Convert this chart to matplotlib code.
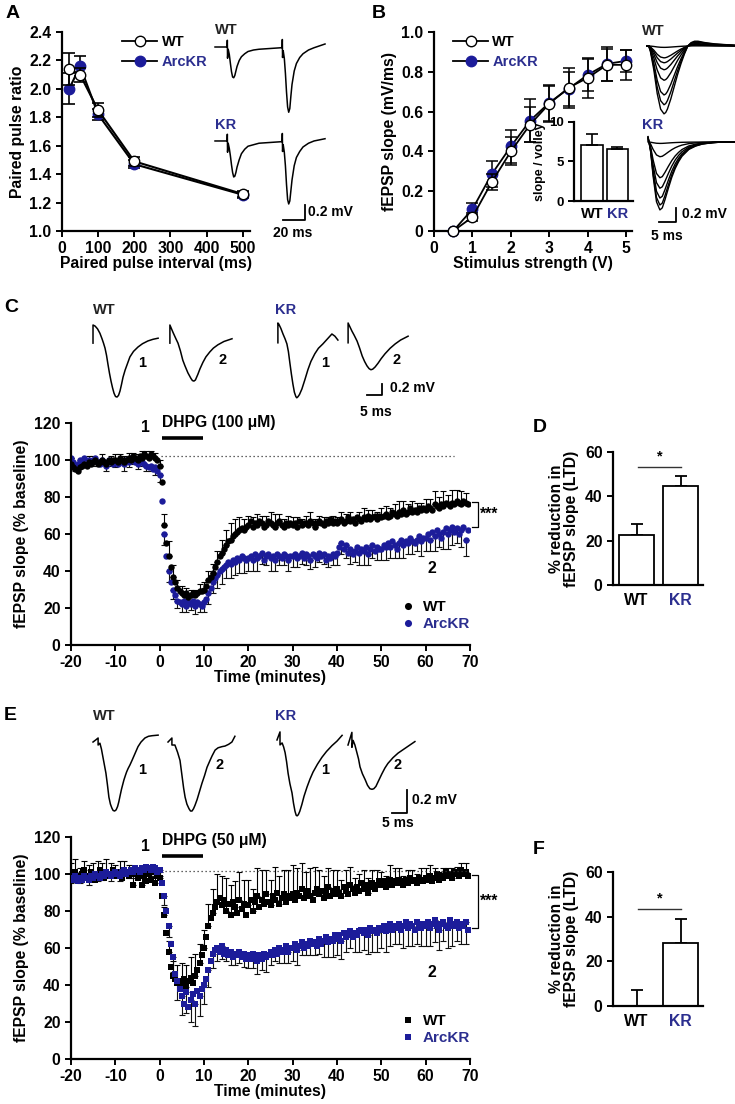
import matplotlib
matplotlib.use('Agg')
import matplotlib.pyplot as plt
from matplotlib.lines import Line2D
import numpy as np

plt.rcParams['font.family'] = ['Liberation Sans', 'DejaVu Sans']
plt.rcParams['font.weight'] = 'bold'
plt.rcParams['axes.labelweight'] = 'bold'
plt.rcParams['axes.unicode_minus'] = False

BLUE = '#1c1c9a'
TBLUE = '#2b2e8f'

# ---------------- data ----------------
# A: paired pulse ratio
ppi = [20, 50, 100, 200, 500]
ppr_wt = [2.14, 2.10, 1.85, 1.49, 1.26]
ppr_wt_err = [0.11, 0.05, 0.05, 0.03, 0.02]
ppr_kr = [2.00, 2.16, 1.82, 1.47, 1.255]
ppr_kr_err = [0.11, 0.07, 0.04, 0.03, 0.02]

# B: input/output
stim = [0.5, 1, 1.5, 2, 2.5, 3, 3.5, 4, 4.5, 5]
io_wt = [0, 0.07, 0.245, 0.40, 0.535, 0.64, 0.72, 0.77, 0.835, 0.835]
io_wt_err = [0, 0.02, 0.04, 0.07, 0.09, 0.09, 0.10, 0.10, 0.08, 0.075]
io_kr = [0, 0.11, 0.285, 0.425, 0.555, 0.645, 0.715, 0.785, 0.84, 0.855]
io_kr_err = [0, 0.03, 0.065, 0.085, 0.11, 0.09, 0.085, 0.08, 0.085, 0.055]
sv_groups = ['WT', 'KR']
sv_vals = [7.1, 6.6]
sv_err = [1.4, 0.25]

# C: DHPG 100 uM time course (0.5 min bins from -20 min)
c_wt = [98, 96, 95, 94, 96, 97, 98, 97, 99, 98, 99, 100, 98, 99, 100, 99, 98, 100, 99, 100,
        100, 99, 101, 100, 99, 100, 101, 100, 102, 101, 100, 102, 101, 103, 102, 101, 103, 102, 101, 100,
        97, 88, 65, 55, 48, 42, 37, 34, 31, 29, 28, 27, 28, 26, 27, 28, 27, 28, 29, 29,
        30, 32, 35, 37, 39, 42, 45, 48, 50, 52, 54, 56, 57, 59, 60, 61, 62, 63, 62, 64,
        65, 67, 64, 66, 65, 67, 66, 64, 65, 67, 66, 65, 64, 66, 67, 65, 64, 66, 65, 66,
        65, 66, 64, 67, 65, 66, 66, 65, 67, 66, 64, 66, 67, 66, 65, 67, 66, 68, 66, 67,
        66, 67, 68, 66, 67, 69, 67, 68, 66, 69, 68, 67, 69, 68, 70, 68, 69, 70, 68, 70,
        69, 70, 71, 69, 70, 72, 71, 70, 72, 71, 73, 71, 72, 74, 72, 73, 72, 74, 73, 74,
        73, 75, 74, 73, 76, 75, 74, 76, 75, 77, 76, 75, 77, 76, 78, 77, 76, 78, 77, 76]
c_kr = [101, 99, 97, 98, 100, 99, 101, 98, 100, 99, 100, 101, 99, 98, 100, 99, 97, 100, 99, 98,
        99, 98, 100, 99, 98, 100, 99, 101, 100, 99, 98, 100, 99, 98, 97, 96, 97, 95, 96, 94,
        92, 78, 60, 48, 40, 34, 30, 27, 24, 23, 22, 24, 21, 23, 22, 24, 21, 23, 22, 21,
        23, 25, 28, 31, 34, 36, 38, 40, 41, 42, 43, 45, 44, 46, 45, 47, 46, 48, 47, 46,
        47, 48, 46, 49, 47, 48, 50, 46, 48, 49, 47, 48, 46, 49, 48, 47, 49, 48, 46, 48,
        48, 49, 47, 48, 50, 47, 49, 48, 46, 49, 48, 47, 50, 48, 49, 46, 48, 47, 49, 48,
        50, 53, 55, 52, 54, 50, 52, 49, 51, 53, 50, 52, 51, 53, 49, 52, 54, 51, 53, 52,
        52, 54, 53, 55, 53, 56, 54, 52, 55, 57, 54, 56, 55, 58, 56, 55, 57, 59, 56, 58,
        58, 60, 57, 61, 59, 62, 60, 58, 61, 63, 60, 62, 64, 61, 63, 60, 62, 64, 57, 62]
# error bars, 1 min bins from -20 min
c_wt_err = [3, 2, 3, 2, 3, 3, 2, 3, 2, 3, 3, 2, 3, 3, 2, 3, 4, 3, 2, 3,
            3, 6, 8, 6, 4, 4, 3, 3, 3, 4, 4, 5, 5, 6, 7, 8, 9, 8, 7, 6,
            5, 5, 6, 4, 5, 6, 7, 4, 4, 5, 4, 5, 3, 4, 5, 4, 3, 4, 3, 4,
            3, 4, 4, 5, 3, 4, 5, 3, 4, 4, 5, 4, 4, 5, 6, 5, 4, 6, 5, 4,
            6, 5, 7, 6, 8, 5, 7, 6, 7, 5]
c_kr_err = [2, 3, 2, 3, 2, 3, 2, 2, 3, 2, 3, 2, 4, 3, 2, 3, 2, 3, 3, 4,
            4, 6, 6, 5, 4, 4, 3, 3, 4, 4, 5, 6, 6, 7, 8, 7, 8, 7, 7, 8,
            7, 6, 7, 6, 5, 7, 6, 5, 6, 6, 6, 5, 6, 6, 5, 6, 5, 5, 6, 6,
            7, 6, 7, 8, 6, 7, 8, 6, 7, 7, 6, 7, 6, 7, 8, 7, 6, 7, 6, 8,
            7, 6, 8, 7, 9, 8, 10, 8, 9, 9]
ltd_c = [22.5, 44.5]
ltd_c_err = [5.0, 4.7]

# E: DHPG 50 uM time course
e_wt = [100, 98, 101, 99, 97, 100, 102, 99, 98, 101, 100, 97, 99, 102, 100, 98, 101, 99, 100, 102,
        99, 101, 100, 98, 102, 100, 99, 101, 94, 100, 98, 101, 94, 99, 96, 100, 97, 101, 95, 99,
        98, 88, 78, 68, 58, 50, 45, 43, 41, 42, 40, 43, 39, 42, 44, 41, 45, 48, 52, 56,
        60, 66, 72, 76, 79, 82, 85, 87, 83, 86, 80, 84, 78, 85, 82, 79, 86, 81, 84, 78,
        83, 86, 80, 85, 88, 82, 86, 84, 89, 85, 83, 88, 86, 90, 84, 87, 89, 85, 88, 87,
        89, 86, 90, 88, 92, 87, 89, 91, 88, 86, 90, 92, 89, 91, 87, 90, 93, 88, 91, 89,
        92, 90, 88, 93, 91, 89, 94, 92, 90, 93, 91, 95, 92, 94, 90, 93, 95, 92, 94, 96,
        94, 96, 93, 95, 97, 94, 96, 95, 97, 96, 94, 97, 95, 98, 96, 97, 95, 98, 97, 96,
        98, 97, 99, 96, 98, 100, 97, 99, 98, 101, 99, 100, 98, 101, 100, 99, 102, 100, 101, 99]
e_kr = [98, 97, 99, 96, 98, 97, 99, 98, 97, 99, 98, 100, 99, 98, 100, 99, 101, 100, 99, 100,
        101, 100, 99, 101, 102, 100, 101, 102, 101, 103, 102, 101, 103, 102, 104, 103, 102, 104, 103, 101,
        102, 95, 88, 80, 72, 62, 55, 46, 42, 38, 34, 30, 36, 28, 32, 35, 30, 37, 34, 38,
        40, 43, 48, 53, 57, 59, 60, 58, 61, 57, 59, 56, 58, 55, 57, 56, 58, 55, 57, 54,
        56, 54, 57, 55, 53, 56, 54, 57, 55, 56, 58, 56, 59, 57, 60, 58, 59, 61, 58, 60,
        60, 62, 59, 61, 63, 60, 62, 61, 64, 62, 63, 61, 65, 62, 64, 66, 63, 65, 64, 67,
        65, 67, 64, 68, 66, 67, 69, 66, 68, 67, 69, 70, 68, 70, 67, 71, 69, 70, 68, 71,
        70, 72, 69, 71, 73, 70, 72, 71, 73, 70, 72, 74, 71, 73, 72, 70, 74, 72, 71, 73,
        72, 74, 71, 73, 75, 72, 70, 73, 74, 72, 71, 75, 73, 72, 74, 71, 73, 72, 74, 70]
e_wt_err = [6, 7, 6, 5, 7, 6, 8, 6, 7, 6, 6, 7, 5, 6, 7, 5, 6, 5, 4, 4,
            3, 4, 6, 8, 10, 12, 12, 11, 12, 10, 10, 12, 13, 15, 16, 18, 16, 14, 15, 13,
            14, 12, 15, 16, 13, 14, 18, 15, 13, 14, 16, 13, 14, 12, 15, 14, 13, 12, 10, 11,
            10, 9, 11, 10, 8, 9, 10, 8, 7, 8, 7, 6, 8, 7, 6, 5, 7, 6, 5, 6,
            5, 6, 5, 4, 5, 4, 5, 4, 4, 5]
e_kr_err = [3, 2, 3, 2, 3, 2, 3, 3, 2, 3, 2, 3, 2, 3, 3, 2, 3, 2, 3, 3,
            3, 5, 6, 8, 10, 10, 11, 12, 12, 11, 10, 9, 8, 7, 7, 6, 7, 6, 6, 7,
            7, 8, 7, 6, 8, 7, 6, 8, 7, 6, 7, 8, 7, 6, 8, 7, 8, 9, 8, 9,
            9, 10, 8, 9, 10, 11, 9, 10, 11, 10, 10, 11, 12, 10, 11, 12, 10, 11, 12, 10,
            11, 10, 12, 11, 10, 11, 12, 10, 11, 12]
ltd_e = [0.0, 28.0]
ltd_e_err = [7.0, 11.0]

# example traces (ms, mV)
a_t = [0, 11, 11.2, 11.4, 12, 13, 14, 15, 16, 17, 18, 19, 20, 22, 24, 27, 30, 35, 40, 50,
       60, 61, 61.2, 61.4, 62, 63, 64, 65, 66, 67, 68, 69, 70, 72, 74, 77, 80, 85, 90, 100]
a_wt = [0, 0, 0.09, -0.15, -0.03, -0.1, -0.22, -0.33, -0.4, -0.41, -0.38, -0.32, -0.26, -0.18, -0.13, -0.09, -0.06, -0.04, -0.03, -0.02,
        -0.01, -0.01, 0.1, -0.14, -0.05, -0.15, -0.35, -0.6, -0.8, -0.87, -0.82, -0.65, -0.5, -0.32, -0.22, -0.14, -0.09, -0.04, -0.01, 0.04]
a_kr = [0, 0, 0.09, -0.15, -0.03, -0.1, -0.2, -0.32, -0.42, -0.48, -0.47, -0.42, -0.35, -0.25, -0.17, -0.11, -0.07, -0.05, -0.03, -0.02,
        -0.01, -0.01, 0.1, -0.14, -0.05, -0.15, -0.33, -0.58, -0.78, -0.84, -0.8, -0.66, -0.52, -0.33, -0.22, -0.14, -0.08, -0.03, 0.0, 0.03]

b_t_wt = [0, 0.5, 1, 2, 3, 4, 5, 5.5, 6, 7, 8, 9, 10, 11, 12, 13, 14, 15, 17, 20, 23, 26]
b_shape_wt = [0, 0, -0.08, -0.35, -0.7, -0.93, -1.0, -0.98, -0.93, -0.78, -0.6, -0.42, -0.26, -0.12, 0.0, 0.05, 0.07, 0.07, 0.05, 0.03, 0.02, 0.01]
b_amp_wt = [0.02, 0.17, 0.24, 0.34, 0.49, 0.70, 0.84, 0.97]
b_t_kr = [0, 0.3, 0.8, 1.5, 2.5, 3.5, 4.2, 5, 6, 7, 8, 9, 10, 12, 14, 16, 19, 22, 26]
b_shape_kr = [0.08, 0, -0.15, -0.5, -0.88, -1.0, -0.97, -0.85, -0.68, -0.52, -0.39, -0.29, -0.21, -0.11, -0.06, -0.03, -0.01, 0, 0]
b_amp_kr = [0.02, 0.21, 0.51, 0.66, 0.80, 0.90, 0.97]

c_tr = {
    'wt1': ([0, 0, 0.7, 1.5, 2.3, 3, 3.5, 4, 4.5, 5, 5.5, 6, 6.5, 7, 7.5, 8, 8.5, 9, 9.5, 10, 10.7, 11.5,
             12.3, 13.5, 15, 16.5, 18.3, 20, 21.7],
            [-0.33, 0, -0.02, -0.07, -0.15, -0.25, -0.33, -0.42, -0.55, -0.72, -0.88, -1.02, -1.14, -1.24, -1.3,
             -1.31, -1.28, -1.2, -1.08, -0.95, -0.82, -0.7, -0.58, -0.48, -0.4, -0.34, -0.29, -0.26, -0.24]),
    'wt2': ([0, 0, 1, 2, 2.7, 3.5, 4.3, 5, 6, 7, 7.5, 8, 8.5, 9.3, 10, 11, 12, 13.3, 14.5, 16, 18, 20.7],
            [-0.33, 0, -0.13, -0.25, -0.33, -0.47, -0.64, -0.74, -0.87, -0.97, -1.01, -1.02, -1.0, -0.9, -0.8,
             -0.68, -0.58, -0.49, -0.42, -0.36, -0.3, -0.25]),
    'kr1': ([0, 0, 0.3, 1, 1.7, 2.4, 3, 3.5, 4, 4.5, 5, 5.5, 6, 6.3, 6.7, 7.2, 8, 9, 10, 11, 12.3, 13.5, 15,
             16.5, 18, 19, 20],
            [-0.36, 0, -0.02, -0.1, -0.2, -0.29, -0.38, -0.52, -0.73, -0.93, -1.11, -1.26, -1.34, -1.36, -1.34,
             -1.3, -1.2, -1.03, -0.85, -0.7, -0.56, -0.46, -0.38, -0.29, -0.2, -0.24, -0.31]),
    'kr2': ([0, 0, 1.3, 2, 3, 3.8, 4.7, 5.5, 6.3, 7, 7.6, 8.2, 9, 10, 11, 12.3, 14, 15.7, 17.5, 20],
            [-0.36, 0, -0.15, -0.22, -0.33, -0.45, -0.6, -0.7, -0.78, -0.83, -0.85, -0.84, -0.8, -0.73, -0.65,
             -0.56, -0.46, -0.38, -0.31, -0.24]),
}
e_tr = {
    'wt1': ([0, 1, 1.7, 1.7, 2.3, 2.8, 3.3, 3.8, 4.3, 4.8, 5.3, 5.8, 6.3, 6.7, 7.2, 7.7, 8.2, 8.6, 9, 9.5,
             10, 10.3, 10.8, 11.2, 11.7, 12.3, 13, 14, 15, 16, 17.3, 18.5, 19.7, 21.7],
            [0, 0.02, 0.035, -0.026, -0.01, -0.06, -0.13, -0.2, -0.27, -0.37, -0.48, -0.54, -0.575, -0.595, -0.6,
             -0.59, -0.56, -0.52, -0.47, -0.41, -0.36, -0.33, -0.29, -0.26, -0.23, -0.2, -0.16, -0.1, -0.04, 0.0,
             0.035, 0.05, 0.055, 0.06]),
    'wt2': ([0, 1.3, 1.3, 2.3, 3.2, 4, 4.7, 5.2, 5.7, 6.3, 7, 7.5, 8, 8.5, 9, 9.7, 10.5, 11.3, 12.2, 13, 14,
             14.7, 15.7, 16.7, 18, 19, 20.2, 21.3, 22.3],
            [0, 0.035, -0.026, -0.026, -0.09, -0.16, -0.3, -0.4, -0.48, -0.54, -0.58, -0.6, -0.6, -0.58, -0.55,
             -0.5, -0.43, -0.36, -0.29, -0.22, -0.16, -0.12, -0.07, -0.05, -0.04, -0.035, -0.02, 0.0, 0.05]),
    'kr1': ([0, 1, 1, 1.7, 2.2, 2.7, 3.2, 3.7, 4.3, 5, 5.5, 6, 6.4, 6.7, 7.1, 7.6, 8.3, 9, 10, 11, 12, 13.5,
             15, 16.5, 18.3, 20, 21.7],
            [0, 0.07, -0.043, -0.026, -0.06, -0.11, -0.19, -0.29, -0.38, -0.46, -0.55, -0.62, -0.655, -0.66,
             -0.65, -0.62, -0.56, -0.49, -0.41, -0.34, -0.28, -0.21, -0.15, -0.1, -0.05, -0.01, 0.04]),
    'kr2': ([0, 1.3, 1.3, 1.7, 2.3, 3, 3.5, 4, 4.8, 5.7, 6.5, 7.3, 8, 8.6, 9.3, 10.2, 11.3, 12.3, 13.3, 15,
             16.7, 19.5, 22.3],
            [0, 0.11, -0.02, 0.04, 0.0, -0.07, -0.12, -0.19, -0.25, -0.3, -0.35, -0.38, -0.385, -0.38, -0.36,
             -0.31, -0.25, -0.2, -0.16, -0.11, -0.07, -0.02, 0.03]),
}

t_bins = np.arange(-20, 70, 0.5)
t_err = t_bins[::2]

# ---------------- layout helpers ----------------
W, H = 735, 1104
fig = plt.figure(figsize=(W / 100, H / 100), dpi=100)
FS = 11.3
LFS = 10.5


def box(l, t, r, b):
    return [l / W, 1 - b / H, (r - l) / W, (b - t) / H]


def style(ax, fs=FS):
    for s in ('top', 'right'):
        ax.spines[s].set_visible(False)
    for s in ('left', 'bottom'):
        ax.spines[s].set_linewidth(1.6)
    ax.tick_params(width=1.4, length=4.5, labelsize=fs, pad=3, direction='out')
    ax.patch.set_alpha(0)


def trace_ax(l, t, r, b, px_ms, px_mv):
    a = fig.add_axes(box(l, t, r, b))
    a.set_xlim(0, (r - l) / px_ms)
    a.set_ylim(-(b - t) / px_mv, 0)
    a.axis('off')
    a.patch.set_alpha(0)
    return a


def letter(x, y, s):
    fig.text(x / W, 1 - y / H, s, fontsize=14, fontweight='bold', va='center', ha='left')


# ---------------- A ----------------
ax = fig.add_axes(box(62, 32, 250, 231))
style(ax)
ax.errorbar(ppi, ppr_kr, yerr=ppr_kr_err, color='k', lw=1.5, marker='o', ms=7.5, mfc=BLUE, mec=BLUE,
            ecolor='k', capsize=4, elinewidth=1.2, capthick=1.2, zorder=2, clip_on=False)
ax.errorbar(ppi, ppr_wt, yerr=ppr_wt_err, color='k', lw=1.5, marker='o', ms=7.5, mfc='white', mec='k',
            ecolor='k', capsize=4, elinewidth=1.2, capthick=1.2, zorder=3, clip_on=False)
ax.set_xlim(0, 520)
ax.set_ylim(1.0, 2.4)
ax.set_xticks([0, 100, 200, 300, 400, 500])
ax.set_yticks(np.arange(1.0, 2.41, 0.2))
ax.set_yticklabels(['%.1f' % v for v in np.arange(1.0, 2.41, 0.2)])
ax.set_xlabel('Paired pulse interval (ms)', fontsize=FS, labelpad=0)
ax.set_ylabel('Paired pulse ratio', fontsize=FS, labelpad=3)
hs = [Line2D([], [], color='k', lw=1.3, marker='o', ms=7.5, mfc='white', mec='k'),
      Line2D([], [], color='k', lw=1.3, marker='o', ms=7.5, mfc=BLUE, mec=BLUE)]
lg = ax.legend(hs, ['WT', 'ArcKR'], loc='upper left', bbox_to_anchor=(0.25, 1.05), frameon=False,
               fontsize=LFS, handlelength=2.4, handletextpad=0.3, labelspacing=0.4)
lg.get_texts()[1].set_color(TBLUE)
letter(6, 13, 'A')

ta = trace_ax(205, 20, 340, 235, 1.1, 75)
ta.plot(np.array(a_t) + 9.1, np.array(a_wt) - 0.36, color='k', lw=1.1)
ta.plot(np.array(a_t) + 9.1, np.array(a_kr) - 1.613, color='k', lw=1.1)
ta.text(9.1, -0.13, 'WT', fontsize=LFS, va='center', ha='left', color='#222222')
ta.text(9.1, -1.40, 'KR', fontsize=LFS, va='center', ha='left', color=TBLUE)
ta.plot([70.9, 90.9, 90.9], [-2.667, -2.667, -2.467], color='k', lw=1.3)
ta.text(94, -2.56, '0.2 mV', fontsize=10, va='center', ha='left')
ta.text(80, -2.84, '20 ms', fontsize=10, va='center', ha='center')

# ---------------- B ----------------
ax = fig.add_axes(box(434, 32, 632, 231))
style(ax)
ax.errorbar(stim, io_kr, yerr=io_kr_err, color='k', lw=1.3, marker='o', ms=7.5, mfc=BLUE, mec=BLUE,
            ecolor='k', capsize=4, elinewidth=1.1, capthick=1.1, zorder=2, clip_on=False)
ax.errorbar(stim, io_wt, yerr=io_wt_err, color='k', lw=1.3, marker='o', ms=7.5, mfc='white', mec='k',
            ecolor='k', capsize=4, elinewidth=1.1, capthick=1.1, zorder=3, clip_on=False)
ax.set_xlim(0, 5.15)
ax.set_ylim(0, 1.0)
ax.set_xticks([0, 1, 2, 3, 4, 5])
ax.set_yticks([0, 0.2, 0.4, 0.6, 0.8, 1.0])
ax.set_yticklabels(['0', '0.2', '0.4', '0.6', '0.8', '1.0'])
ax.set_xlabel('Stimulus strength (V)', fontsize=FS, labelpad=0)
ax.set_ylabel('fEPSP slope (mV/ms)', fontsize=FS, labelpad=3)
lg = ax.legend(hs, ['WT', 'ArcKR'], loc='upper left', bbox_to_anchor=(0.03, 1.05), frameon=False,
               fontsize=LFS, handlelength=2.4, handletextpad=0.3, labelspacing=0.4)
lg.get_texts()[1].set_color(TBLUE)
letter(372, 13, 'B')

ins = fig.add_axes(box(574, 122, 633, 201))
style(ins, fs=9.5)
ins.bar([0, 1], sv_vals, width=0.84, color='white', edgecolor='k', lw=1.2)
ins.errorbar([0, 1], sv_vals, yerr=[[0, 0], sv_err], fmt='none', ecolor='k', capsize=4, elinewidth=1.2, capthick=1.2)
ins.set_xlim(-0.7, 1.61)
ins.set_ylim(0, 10)
ins.set_yticks([0, 5, 10])
ins.set_xticks([0, 1])
ins.set_xticklabels(sv_groups, fontsize=LFS)
ins.tick_params(axis='x', length=0, pad=4)
ins.get_xticklabels()[1].set_color(TBLUE)
ins.set_ylabel('slope / volley', fontsize=9, labelpad=2)

tb = trace_ax(640, 20, 735, 240, 3.4, 70)
for amp in b_amp_wt:
    tb.plot(np.array(b_t_wt) + 2.06, np.array(b_shape_wt) * amp - 0.371, color='k', lw=1.0)
for amp in b_amp_kr:
    tb.plot(np.array(b_t_kr) + 2.35, np.array(b_shape_kr) * amp - 1.743, color='k', lw=1.0)
tb.text(0.6, -0.16, 'WT', fontsize=LFS, va='center', ha='left', color='#222222')
tb.text(0.6, -1.5, 'KR', fontsize=LFS, va='center', ha='left', color=TBLUE)
tb.plot([5.6, 10.6, 10.6], [-2.886, -2.886, -2.686], color='k', lw=1.3)
tb.text(12.4, -2.77, '0.2 mV', fontsize=10, va='center', ha='left')
tb.text(7.8, -3.08, '5 ms', fontsize=10, va='center', ha='center')


# ---------------- C & E time courses ----------------
def timecourse(rect, wt, kr, wt_err, kr_err, marker, ms, conc, bar_y, txt_y, dot_y, dot_end,
               brk, stars_y, two_y, kr_on_top):
    ax = fig.add_axes(box(*rect))
    style(ax)
    wt = np.array(wt, float)
    kr = np.array(kr, float)
    ax.errorbar(t_err, wt[::2], yerr=[np.zeros(len(t_err)), wt_err], fmt='none', ecolor='k',
                elinewidth=0.8, capsize=2.3, capthick=0.8, zorder=1)
    ax.errorbar(t_err, kr[::2], yerr=[kr_err, np.zeros(len(t_err))], fmt='none', ecolor='#111111',
                elinewidth=0.8, capsize=2.3, capthick=0.8, zorder=1)
    zw, zk = (3, 2) if not kr_on_top else (2, 3)
    ax.plot(t_bins, wt, marker, color='k', ms=ms, mew=0, zorder=zw)
    ax.plot(t_bins, kr, marker, color=BLUE, ms=ms, mew=0, zorder=zk)
    ax.set_xlim(-20, 70)
    ax.set_ylim(0, 120)
    ax.set_xticks(np.arange(-20, 71, 10))
    ax.set_yticks(np.arange(0, 121, 20))
    ax.set_xlabel('Time (minutes)', fontsize=FS, labelpad=0)
    ax.set_ylabel('fEPSP slope (% baseline)', fontsize=FS, labelpad=4)
    ax.plot([0.5, 9.7], [bar_y, bar_y], color='k', lw=2.6, solid_capstyle='butt')
    ax.text(0.5, txt_y, 'DHPG (%s \u03bcM)' % conc, fontsize=FS, ha='left', va='center')
    ax.text(-3.3, txt_y - 3, '1', fontsize=FS, ha='center', va='center')
    ax.plot([0.3, dot_end], [dot_y, dot_y], color='#333333', lw=0.9, ls=(0, (1, 2.2)))
    ax.plot([70.5, 71.8, 71.8, 70.5], [brk[0], brk[0], brk[1], brk[1]], color='k', lw=0.9, clip_on=False)
    ax.text(72.3, stars_y, '***', fontsize=FS, ha='left', va='center')
    ax.text(61.5, two_y, '2', fontsize=FS, ha='center', va='center')
    hl = [Line2D([], [], ls='none', marker=marker, color='k', ms=ms + 0.5, mew=0),
          Line2D([], [], ls='none', marker=marker, color=BLUE, ms=ms + 0.5, mew=0)]
    lg = ax.legend(hl, ['WT', 'ArcKR'], loc='lower right', bbox_to_anchor=(1.035, 0.0), frameon=False,
                   fontsize=LFS + 0.5, handlelength=0.8, handletextpad=0.6, labelspacing=0.2)
    lg.get_texts()[1].set_color(TBLUE)
    return ax


timecourse((71, 423, 470, 645), c_wt, c_kr, c_wt_err, c_kr_err, 'o', 4.6, '100', 112, 120.5, 102.3, 66.5,
           (77.3, 64), 70.5, 41.6, False)
letter(4, 307, 'C')
timecourse((71, 837, 470, 1059), e_wt, e_kr, e_wt_err, e_kr_err, 's', 4.2, '50', 109.7, 118, 101.6, 69.5,
           (99.5, 70.8), 85.5, 46.5, True)
letter(4, 715, 'E')

# example traces C
tc = trace_ax(85, 300, 435, 420, 3, 55)
for key, (x0, y0) in {'wt1': (2.67, -0.4545), 'wt2': (28.3, -0.4545),
                      'kr1': (64.3, -0.418), 'kr2': (87.7, -0.418)}.items():
    tt, vv = c_tr[key]
    tc.plot(np.array(tt) + x0, np.array(vv) + y0, color='k', lw=1.1)
tc.text(2.67, -0.18, 'WT', fontsize=LFS, ha='left', va='center', color='#222222')
tc.text(63.3, -0.18, 'KR', fontsize=LFS, ha='left', va='center', color=TBLUE)
for x, y, s in [(19, -1.145, '1'), (45.7, -1.09, '2'), (80, -1.145, '1'), (104, -1.09, '2')]:
    tc.text(x, y, s, fontsize=LFS, ha='center', va='center')
tc.plot([94, 99, 99], [-1.727, -1.727, -1.527], color='k', lw=1.3)
tc.text(101.5, -1.6, '0.2 mV', fontsize=10, ha='left', va='center')
tc.text(97, -2.03, '5 ms', fontsize=10, ha='center', va='center')

# example traces E
te = trace_ax(85, 705, 435, 830, 3, 115)
for key, (x0, y0) in {'wt1': (2.67, -0.322), 'wt2': (27.67, -0.322),
                      'kr1': (64, -0.304), 'kr2': (87.67, -0.348)}.items():
    tt, vv = e_tr[key]
    te.plot(np.array(tt) + x0, np.array(vv) + y0, color='k', lw=1.1)
te.text(2.67, -0.096, 'WT', fontsize=LFS, ha='left', va='center', color='#222222')
te.text(63.3, -0.096, 'KR', fontsize=LFS, ha='left', va='center', color=TBLUE)
for x, y, s in [(19, -0.565, '1'), (45, -0.522, '2'), (80, -0.565, '1'), (104.3, -0.522, '2')]:
    te.text(x, y, s, fontsize=LFS, ha='center', va='center')
te.plot([102.3, 107.3, 107.3], [-0.939, -0.939, -0.739], color='k', lw=1.3)
te.text(109, -0.826, '0.2 mV', fontsize=10, ha='left', va='center')
te.text(104.3, -1.03, '5 ms', fontsize=10, ha='center', va='center')


# ---------------- D & F bars ----------------
def ltd_bars(rect, vals, errs, sig_y):
    ax = fig.add_axes(box(*rect))
    style(ax)
    ax.bar([0, 1], vals, width=0.8, color='white', edgecolor='k', lw=1.3, zorder=2)
    ax.errorbar([0, 1], vals, yerr=[[0, 0], errs], fmt='none', ecolor='k', capsize=4.5,
                elinewidth=1.3, capthick=1.3, zorder=1)
    ax.set_xlim(-0.534, 1.51)
    ax.set_ylim(0, 60)
    ax.set_yticks([0, 20, 40, 60])
    ax.set_xticks([0, 1])
    ax.set_xticklabels(['WT', 'KR'], fontsize=FS)
    ax.get_xticklabels()[1].set_color(TBLUE)
    ax.tick_params(axis='x', length=0, pad=6)
    ax.set_ylabel('% reduction in\nfEPSP slope (LTD)', fontsize=FS, labelpad=4, linespacing=1.05)
    ax.plot([0.03, 1.01], [sig_y, sig_y], color='#333333', lw=1.0)
    ax.text(0.52, sig_y + 1.5, '*', fontsize=10.5, ha='center', va='bottom')
    return ax


ltd_bars((613, 452, 703, 585), ltd_c, ltd_c_err, 53.4)
letter(533, 428, 'D')
ltd_bars((613, 872, 703, 1006), ltd_e, ltd_e_err, 43.6)
letter(533, 850, 'F')

fig.savefig('out.png', dpi=100, facecolor='white')
